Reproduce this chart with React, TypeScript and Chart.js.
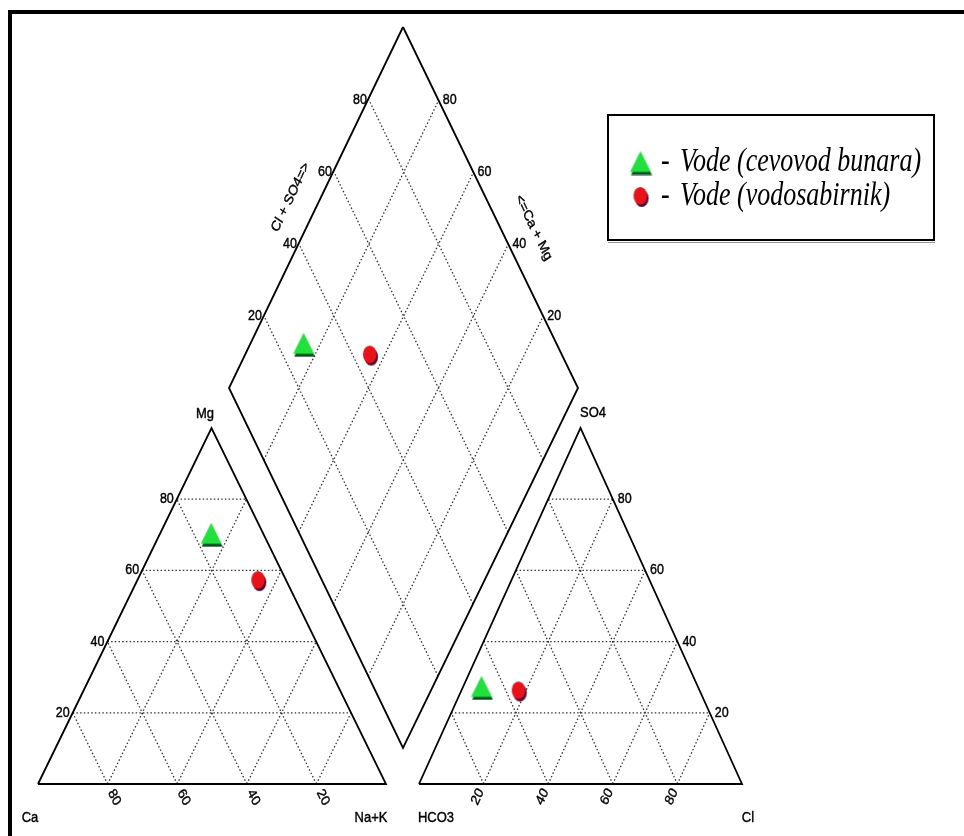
import React, { useEffect, useRef } from 'react';
import { Chart, registerables } from 'chart.js';

Chart.register(...registerables);

// ---------------- data ----------------
const sampleLabels = ['Vode (cevovod bunara)', 'Vode (vodosabirnik)'];
// cation triangle, % meq
const cationCa = [15, 8];
const cationMg = [70, 57];
const cationNaK = [15, 35];
// anion triangle, % meq
const anionHCO3 = [67, 56];
const anionSO4 = [27, 26];
const anionCl = [6, 18];
// central diamond, %
const diamondCaMg = [84.5, 64];
const diamondClSO4 = [27.5, 45];

const gridTicks = [20, 40, 60, 80];
const cationNames = ['Ca', 'Na+K', 'Mg'];
const anionNames = ['HCO3', 'Cl', 'SO4'];
const diamondTitles = ['Cl + SO4=>', '<=Ca + Mg'];

// ---------------- layout ----------------
const W = 964;
const H = 836;
type P = { x: number; y: number };
// a = bottom-left, b = bottom-right, c = apex
const CAT = { a: { x: 38, y: 784 }, b: { x: 386, y: 784 }, c: { x: 211.5, y: 428 } };
const AN = { a: { x: 419, y: 784 }, b: { x: 742, y: 784 }, c: { x: 580.5, y: 428 } };
const DIA = { t: { x: 403, y: 27 }, l: { x: 229, y: 388 }, r: { x: 578, y: 388 }, b: { x: 403, y: 748 } };
const TEXT_K = 1.18;

function tern(tri: typeof CAT, fa: number, fb: number, fc: number): P {
  const s = fa + fb + fc;
  return {
    x: (fa * tri.a.x + fb * tri.b.x + fc * tri.c.x) / s,
    y: (fa * tri.a.y + fb * tri.b.y + fc * tri.c.y) / s,
  };
}
function dia(c: number, s: number): P {
  const B = DIA.b;
  return {
    x: B.x + (c / 100) * (DIA.l.x - B.x) + (s / 100) * (DIA.r.x - B.x),
    y: B.y + (c / 100) * (DIA.l.y - B.y) + (s / 100) * (DIA.r.y - B.y),
  };
}
function unit(a: P, b: P): P {
  const dx = b.x - a.x, dy = b.y - a.y;
  const l = Math.hypot(dx, dy);
  return { x: dx / l, y: dy / l };
}

function makeTriangleMarker(): HTMLCanvasElement {
  const c = document.createElement('canvas');
  c.width = 23; c.height = 25;
  const g = c.getContext('2d')!;
  g.fillStyle = '#0b4a22';
  g.beginPath(); g.moveTo(12, 3.5); g.lineTo(22.5, 24.5); g.lineTo(1.5, 24.5); g.closePath(); g.fill();
  g.fillStyle = '#22e03c';
  g.beginPath(); g.moveTo(11, 0.5); g.lineTo(21.5, 21.5); g.lineTo(0.5, 21.5); g.closePath(); g.fill();
  return c;
}
function makeCircleMarker(): HTMLCanvasElement {
  const c = document.createElement('canvas');
  c.width = 17; c.height = 22;
  const g = c.getContext('2d')!;
  g.fillStyle = '#4b1232';
  g.beginPath(); g.ellipse(9.3, 12.3, 6.8, 8.8, 0, 0, Math.PI * 2); g.fill();
  g.fillStyle = '#e8121a';
  g.beginPath(); g.ellipse(7.8, 9.8, 6.8, 8.8, 0, 0, Math.PI * 2); g.fill();
  return c;
}

function drawText(
  ctx: CanvasRenderingContext2D, txt: string, x: number, y: number,
  font: string, align: CanvasTextAlign = 'center', angleDeg = 0, k = TEXT_K, color = '#000', stroke = 0.35
) {
  ctx.save();
  ctx.translate(x, y);
  ctx.scale(1, k);
  const a = (angleDeg * Math.PI) / 180;
  ctx.rotate(Math.atan2(Math.sin(a) / k, Math.cos(a)));
  ctx.font = font;
  ctx.fillStyle = color;
  ctx.textAlign = align;
  ctx.textBaseline = 'middle';
  ctx.fillText(txt, 0, 0);
  if (stroke > 0) {
    ctx.strokeStyle = color;
    ctx.lineWidth = stroke;
    ctx.strokeText(txt, 0, 0);
  }
  ctx.restore();
}

export default function App() {
  const ref = useRef<HTMLCanvasElement | null>(null);

  useEffect(() => {
    if (!ref.current) return;
    const triImg = makeTriangleMarker();
    const cirImg = makeCircleMarker();
    const markers = [triImg, cirImg];

    const datasets: any[] = [];
    const outline = (pts: P[]) =>
      datasets.push({
        data: pts, showLine: true, pointRadius: 0, borderColor: '#000', borderWidth: 1.8,
        borderJoinStyle: 'miter', fill: false, order: 2,
      });
    const grid = (p1: P, p2: P) =>
      datasets.push({
        data: [p1, p2], showLine: true, pointRadius: 0, borderColor: '#333', borderWidth: 1.3,
        borderDash: [1.5, 2.2], fill: false, order: 3,
      });

    // grid lines
    for (const t of gridTicks) {
      for (const tri of [CAT, AN]) {
        grid(tern(tri, 100 - t, 0, t), tern(tri, 0, 100 - t, t)); // apex component constant
        grid(tern(tri, t, 100 - t, 0), tern(tri, t, 0, 100 - t)); // a constant
        grid(tern(tri, 100 - t, t, 0), tern(tri, 0, t, 100 - t)); // b constant
      }
      grid(dia(0, t), dia(100, t));
      grid(dia(t, 0), dia(t, 100));
    }
    // outlines
    outline([CAT.a, CAT.b, CAT.c, CAT.a]);
    outline([AN.a, AN.b, AN.c, AN.a]);
    outline([DIA.t, DIA.r, DIA.b, DIA.l, DIA.t]);

    // samples
    sampleLabels.forEach((label, i) => {
      datasets.push({
        label,
        data: [
          tern(CAT, cationCa[i], cationNaK[i], cationMg[i]),
          tern(AN, anionHCO3[i], anionCl[i], anionSO4[i]),
          dia(diamondCaMg[i], diamondClSO4[i]),
        ],
        showLine: false,
        pointStyle: markers[i],
        pointRadius: 10,
        order: 1,
      });
    });

    const labelsPlugin = {
      id: 'piperLabels',
      beforeDraw(chart: any) {
        const ctx = chart.ctx as CanvasRenderingContext2D;
        ctx.save();
        ctx.fillStyle = '#fff';
        ctx.fillRect(0, 0, chart.width, chart.height);
        ctx.restore();
      },
      afterDraw(chart: any) {
        const ctx = chart.ctx as CanvasRenderingContext2D;
        const xs = chart.scales.x, ys = chart.scales.y;
        const X = (p: P) => xs.getPixelForValue(p.x);
        const Y = (p: P) => ys.getPixelForValue(p.y);
        const tickFont = '12.5px "Liberation Sans", Arial, sans-serif';
        const nameFont = '13px "Liberation Sans", Arial, sans-serif';

        // frame
        ctx.save();
        ctx.fillStyle = '#000';
        ctx.fillRect(8, 10, 4, chart.height - 10);
        ctx.fillRect(8, 10, chart.width - 8, 4);
        ctx.restore();

        for (const t of gridTicks) {
          // cation: Mg on left edge
          let p = tern(CAT, 100 - t, 0, t);
          drawText(ctx, String(t), X(p) - 3, Y(p), tickFont, 'right');
          // cation: Ca along bottom
          p = tern(CAT, t, 100 - t, 0);
          let d = unit(CAT.c, CAT.b);
          drawText(ctx, String(t), X(p) + d.x * 15, Y(p) + d.y * 15, tickFont, 'center',
            (Math.atan2(d.y, d.x) * 180) / Math.PI);
          // anion: SO4 on right edge
          p = tern(AN, 0, 100 - t, t);
          drawText(ctx, String(t), X(p) + 5, Y(p), tickFont, 'left');
          // anion: Cl along bottom
          p = tern(AN, 100 - t, t, 0);
          d = unit(AN.c, AN.a);
          drawText(ctx, String(t), X(p) + d.x * 14, Y(p) + d.y * 14, tickFont, 'center',
            (Math.atan2(-d.y, -d.x) * 180) / Math.PI);
          // diamond: Cl+SO4 on upper-left edge, Ca+Mg on upper-right edge
          p = dia(100, t);
          drawText(ctx, String(t), X(p) - 2, Y(p), tickFont, 'right');
          p = dia(t, 100);
          drawText(ctx, String(t), X(p) + 4, Y(p), tickFont, 'left');
        }

        // vertex names
        drawText(ctx, cationNames[0], X(CAT.a) - 8, Y(CAT.a) + 34, nameFont);
        drawText(ctx, cationNames[1], X(CAT.b) - 15, Y(CAT.b) + 34, nameFont);
        drawText(ctx, cationNames[2], X(CAT.c) - 6.5, Y(CAT.c) - 14, nameFont);
        drawText(ctx, anionNames[0], X(AN.a) + 17, Y(AN.a) + 34, nameFont);
        drawText(ctx, anionNames[1], X(AN.b) + 6, Y(AN.b) + 34, nameFont);
        drawText(ctx, anionNames[2], X(AN.c) + 12.5, Y(AN.c) - 15, nameFont);

        // diamond axis titles
        let p = dia(100, 53);
        let d = unit(DIA.l, DIA.t);
        drawText(ctx, diamondTitles[0], X(p) - 31, Y(p), tickFont, 'center',
          (Math.atan2(d.y, d.x) * 180) / Math.PI);
        p = dia(44.5, 100);
        d = unit(DIA.t, DIA.r);
        drawText(ctx, diamondTitles[1], X(p) + 33, Y(p), tickFont, 'center',
          (Math.atan2(d.y, d.x) * 180) / Math.PI);

        // legend
        ctx.save();
        ctx.strokeStyle = '#000';
        ctx.lineWidth = 2;
        ctx.strokeRect(608, 115, 326, 125);
        ctx.strokeStyle = '#999';
        ctx.lineWidth = 1;
        ctx.beginPath(); ctx.moveTo(608, 242.5); ctx.lineTo(935, 242.5); ctx.stroke();
        ctx.restore();
        const legendRows = [163, 197];
        const legendFont = 'italic 26px "Liberation Serif", "Times New Roman", serif';
        sampleLabels.forEach((label, i) => {
          const img = markers[i];
          ctx.drawImage(img, 641 - img.width / 2, legendRows[i] - img.height / 2);
          drawText(ctx, '-', 661, legendRows[i] - 1, legendFont, 'left', 0, 1.28, '#000', 0);
          drawText(ctx, label, 680, legendRows[i] - 1, legendFont, 'left', 0, 1.28, '#000', 0);
        });
      },
    };

    const chart = new Chart(ref.current, {
      type: 'scatter',
      data: { datasets },
      options: {
        animation: false,
        responsive: false,
        maintainAspectRatio: false,
        devicePixelRatio: 1,
        events: [],
        layout: { padding: 0, autoPadding: false },
        scales: {
          x: { type: 'linear', min: 0, max: W, display: false },
          y: { type: 'linear', min: 0, max: H, reverse: true, display: false },
        },
        plugins: { legend: { display: false }, tooltip: { enabled: false } },
      },
      plugins: [labelsPlugin],
    });
    return () => chart.destroy();
  }, []);

  return (
    <div style={{ position: 'absolute', left: 0, top: 0, width: W, height: H, background: '#fff' }}>
      <canvas ref={ref} width={W} height={H} style={{ display: 'block' }} />
    </div>
  );
}
